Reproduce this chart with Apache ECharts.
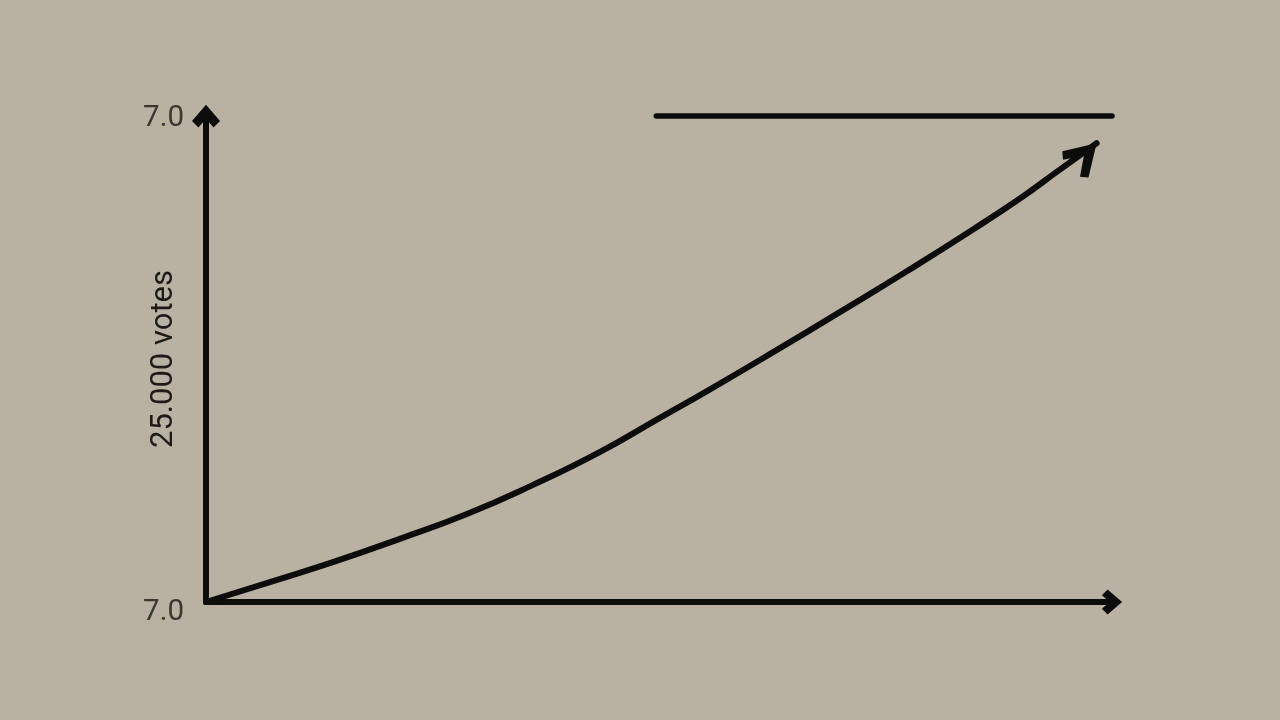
<!DOCTYPE html>
<html>
<head>
<meta charset="utf-8">
<script src="https://cdn.jsdelivr.net/npm/echarts@6/dist/echarts.min.js"></script>
<style>
html,body{margin:0;padding:0;background:#b9b1a1;}
#chart{width:1280px;height:720px;}
</style>
</head>
<body>
<div id="chart"></div>
<script>
// ---- data ----
const curveX = [0, 6.7, 14.0, 21.4, 28.8, 36.1, 43.5, 50.1, 55.3, 62.6, 70.0, 77.4, 84.7, 90.2, 93.9, 98.3];
const curveY = [0, 3.9, 8.2, 13.0, 18.1, 24.1, 30.9, 37.9, 43.4, 51.4, 59.7, 68.1, 76.7, 83.5, 88.5, 94.4];
const topLineX = [49.7, 100];
const topLineY = [100, 100];
const yTickValues = [0, 100];
const yTickLabels = ['7.0', '7.0'];
const yAxisName = '25.000 votes';

// ---- styling ----
const INK = '#0c0c0c';
const chevronAxis = 'path://M12,0 L24,14 L18.5,19.5 L12,12 L5.5,19.5 L0,14 Z';
const chevronCurve = 'path://M18.5,0 L37,30 L30.5,35.5 L18.5,18 L6.5,35.5 L0,30 Z';
const headSize = [37, 35.5];
const headRotate = -45;
// put the arrow tip (not the symbol centre) on the last point
const rad = headRotate * Math.PI / 180;
const tipX = (-headSize[1] / 2) * Math.sin(rad);
const tipY = (-headSize[1] / 2) * Math.cos(rad);

const curveData = curveX.map((x, i) => [x, curveY[i]]);
const topLineData = topLineX.map((x, i) => [x, topLineY[i]]);
const n = curveData.length;

const chart = echarts.init(document.getElementById('chart'));
chart.setOption({
  backgroundColor: '#b9b1a1',
  animation: false,
  grid: { left: 206, right: 168, top: 116, bottom: 118, containLabel: false, outerBoundsMode: 'none' },
  xAxis: {
    type: 'value', min: 0, max: 100,
    axisLine: { show: true, symbol: ['none', chevronAxis], symbolSize: [25, 22],
      lineStyle: { color: INK, width: 6 } },
    axisTick: { show: false }, axisLabel: { show: false }, splitLine: { show: false }
  },
  yAxis: {
    type: 'value', min: 0, max: 100, interval: 100,
    name: yAxisName, nameLocation: 'middle', nameRotate: 90, nameGap: 26, nameMoveOverlap: false,
    nameTextStyle: { fontFamily: 'Roboto', fontSize: 31, color: '#1c1b19' },
    axisLine: { show: true, symbol: ['none', chevronAxis], symbolSize: [28, 26],
      lineStyle: { color: INK, width: 6 } },
    axisTick: { show: false }, splitLine: { show: false },
    axisLabel: {
      show: true, margin: 22, fontFamily: 'Roboto', fontSize: 29.5, color: '#3a3833',
      formatter: function (v) {
        const i = yTickValues.indexOf(v);
        const t = i >= 0 ? yTickLabels[i] : '';
        return (v === yTickValues[0] ? '{lo|' : '{hi|') + t + '}';
      },
      rich: {
        lo: { padding: [22, 0, 0, 0], fontFamily: 'Roboto', fontSize: 29.5, color: '#3a3833' },
        hi: { padding: [6, 0, 0, 0], fontFamily: 'Roboto', fontSize: 29.5, color: '#3a3833' }
      }
    }
  },
  series: [
    {
      type: 'line', data: curveData, smooth: 0.5, symbol: 'none', clip: false,
      lineStyle: { color: INK, width: 6, cap: 'round', join: 'round' },
      silent: true, z: 3
    },
    {
      type: 'scatter', data: [curveData[n - 1]], clip: false, silent: true, z: 4,
      symbol: chevronCurve, symbolSize: headSize, symbolRotate: headRotate,
      symbolOffset: [-tipX, -tipY],
      itemStyle: { color: INK, opacity: 1 }
    },
    {
      type: 'line', data: topLineData, symbol: 'none', clip: false, silent: true,
      lineStyle: { color: INK, width: 5.5, cap: 'round' }
    }
  ]
});
</script>
</body>
</html>
